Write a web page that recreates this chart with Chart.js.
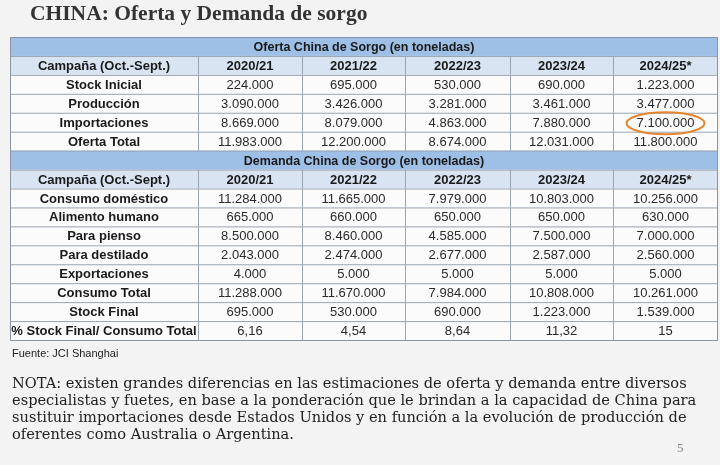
<!DOCTYPE html>
<html><head><meta charset="utf-8">
<script src="https://cdn.jsdelivr.net/npm/chart.js@4"></script>
<style>
html,body{margin:0;padding:0;background:#f3f3f3;width:720px;height:465px;overflow:hidden;position:relative}
#c{position:absolute;left:0;top:0}
.t{position:absolute;font-family:"Liberation Serif",serif;color:#222}
</style></head><body>
<canvas id="c" width="720" height="465"></canvas>
<div class="t" style="left:30px;top:1px;font-size:21.5px;font-weight:bold;color:#333">CHINA: Oferta y Demanda de sorgo</div>
<div class="t" style="left:12px;top:347px;font-size:11px;font-family:'Liberation Sans',sans-serif">Fuente: JCI Shanghai</div>
<div class="t" style="left:12px;top:374px;width:706px;font-family:'DejaVu Serif',serif;font-size:14.6px;line-height:17px">NOTA: existen grandes diferencias en las estimaciones de oferta y demanda entre diversos especialistas y fuetes, en base a la ponderación que le brindan a la capacidad de China para sustituir importaciones desde Estados Unidos y en función a la evolución de producción de oferentes como Australia o Argentina.</div>
<div class="t" style="left:677px;top:440px;font-size:13px;color:#888">5</div>
<script>
const campaigns = ['2020/21','2021/22','2022/23','2023/24','2024/25*'];
const headerLabel = 'Campaña (Oct.-Sept.)';
const ofertaTitle = 'Oferta China de Sorgo (en toneladas)';
const demandaTitle = 'Demanda China de Sorgo (en toneladas)';
const ofertaRows = ['Stock Inicial','Producción','Importaciones','Oferta Total'];
const stockInicial = [224000,695000,530000,690000,1223000];
const produccion = [3090000,3426000,3281000,3461000,3477000];
const importaciones = [8669000,8079000,4863000,7880000,7100000];
const ofertaTotal = [11983000,12200000,8674000,12031000,11800000];
const demandaRows = ['Consumo doméstico','Alimento humano','Para pienso','Para destilado','Exportaciones','Consumo Total','Stock Final','% Stock Final/ Consumo Total'];
const consumoDomestico = [11284000,11665000,7979000,10803000,10256000];
const alimentoHumano = [665000,660000,650000,650000,630000];
const paraPienso = [8500000,8460000,4585000,7500000,7000000];
const paraDestilado = [2043000,2474000,2677000,2587000,2560000];
const exportaciones = [4000,5000,5000,5000,5000];
const consumoTotal = [11288000,11670000,7984000,10808000,10261000];
const stockFinal = [695000,530000,690000,1223000,1539000];
const pctStock = ['6,16','4,54','8,64','11,32','15'];
const colEdges = [0,188,292,395,500,603,708];

const fmt = v => typeof v==='string'? v : v.toString().replace(/\B(?=(\d{3})+(?!\d))/g,'.');
const rows = [];
rows.push({type:'band',text:ofertaTitle});
rows.push({type:'head'});
const ov=[stockInicial,produccion,importaciones,ofertaTotal];
ofertaRows.forEach((n,i)=>rows.push({type:'data',label:n,vals:ov[i]}));
rows.push({type:'band',text:demandaTitle});
rows.push({type:'head'});
const dv=[consumoDomestico,alimentoHumano,paraPienso,paraDestilado,exportaciones,consumoTotal,stockFinal,pctStock];
demandaRows.forEach((n,i)=>rows.push({type:'data',label:n,vals:dv[i]}));

const tablePlugin = {id:'table',afterDraw(chart){
  const ctx=chart.ctx, xs=chart.scales.x, ys=chart.scales.y;
  const X=v=>xs.getPixelForValue(v), Y=v=>ys.getPixelForValue(v);
  ctx.save();
  rows.forEach((r,i)=>{
    const y0=Y(i), y1=Y(i+1), ym=(y0+y1)/2+1;
    const x0=X(0), x1=X(708);
    ctx.textBaseline='middle';ctx.textAlign='center';
    if(r.type==='band'){
      ctx.fillStyle='#9ebfe6';ctx.fillRect(x0,y0,x1-x0,y1-y0);
      ctx.fillStyle='#1a1a1a';ctx.font='bold 12.5px "Liberation Sans", Arial';
      ctx.fillText(r.text,(x0+x1)/2,ym);
    } else {
      ctx.fillStyle=r.type==='head'?'#d8e4f2':'#fbfbfb';
      ctx.fillRect(x0,y0,x1-x0,y1-y0);
      for(let c=0;c<6;c++){
        const cx=(X(colEdges[c])+X(colEdges[c+1]))/2;
        let t;
        if(r.type==='head'){t=c===0?headerLabel:campaigns[c-1];ctx.font='bold 13px "Liberation Sans", Arial';ctx.fillStyle='#1a1a1a';}
        else if(c===0){t=r.label;ctx.font='bold 13px "Liberation Sans", Arial';ctx.fillStyle='#1a1a1a';}
        else {t=fmt(r.vals[c-1]);ctx.font='13px "Liberation Sans", Arial';ctx.fillStyle='#2a2a2a';}
        ctx.fillText(t,cx,ym);
      }
    }
    ctx.strokeStyle='#9aa4b0';ctx.lineWidth=1;
    ctx.beginPath();ctx.moveTo(x0,y0+0.5);ctx.lineTo(x1,y0+0.5);ctx.stroke();
    if(r.type!=='band'){
      for(let c=1;c<6;c++){const xx=Math.round(X(colEdges[c]))+0.5;ctx.beginPath();ctx.moveTo(xx,y0);ctx.lineTo(xx,y1);ctx.stroke();}
    }
  });
  ctx.strokeStyle='#8a96a6';ctx.strokeRect(X(0)+0.5,Y(0)+0.5,X(708)-X(0)-1,Y(rows.length)-Y(0));
  const cx=(X(colEdges[5])+X(colEdges[6]))/2, cy=(Y(4)+Y(5))/2+1;
  ctx.strokeStyle='#e8832e';ctx.lineWidth=2;ctx.beginPath();ctx.ellipse(cx,cy,39,11,0,0,Math.PI*2);ctx.stroke();
  ctx.restore();
}};

new Chart(document.getElementById('c'),{
  type:'scatter',
  data:{datasets:[{data:[]}]},
  options:{responsive:false,animation:false,
    layout:{padding:{left:10,right:2,top:37,bottom:125}},
    plugins:{legend:{display:false},tooltip:{enabled:false}},
    scales:{x:{type:'linear',min:0,max:708,display:false},
            y:{type:'linear',min:0,max:rows.length,reverse:true,display:false}}},
  plugins:[tablePlugin]
});
</script>
</body></html>
